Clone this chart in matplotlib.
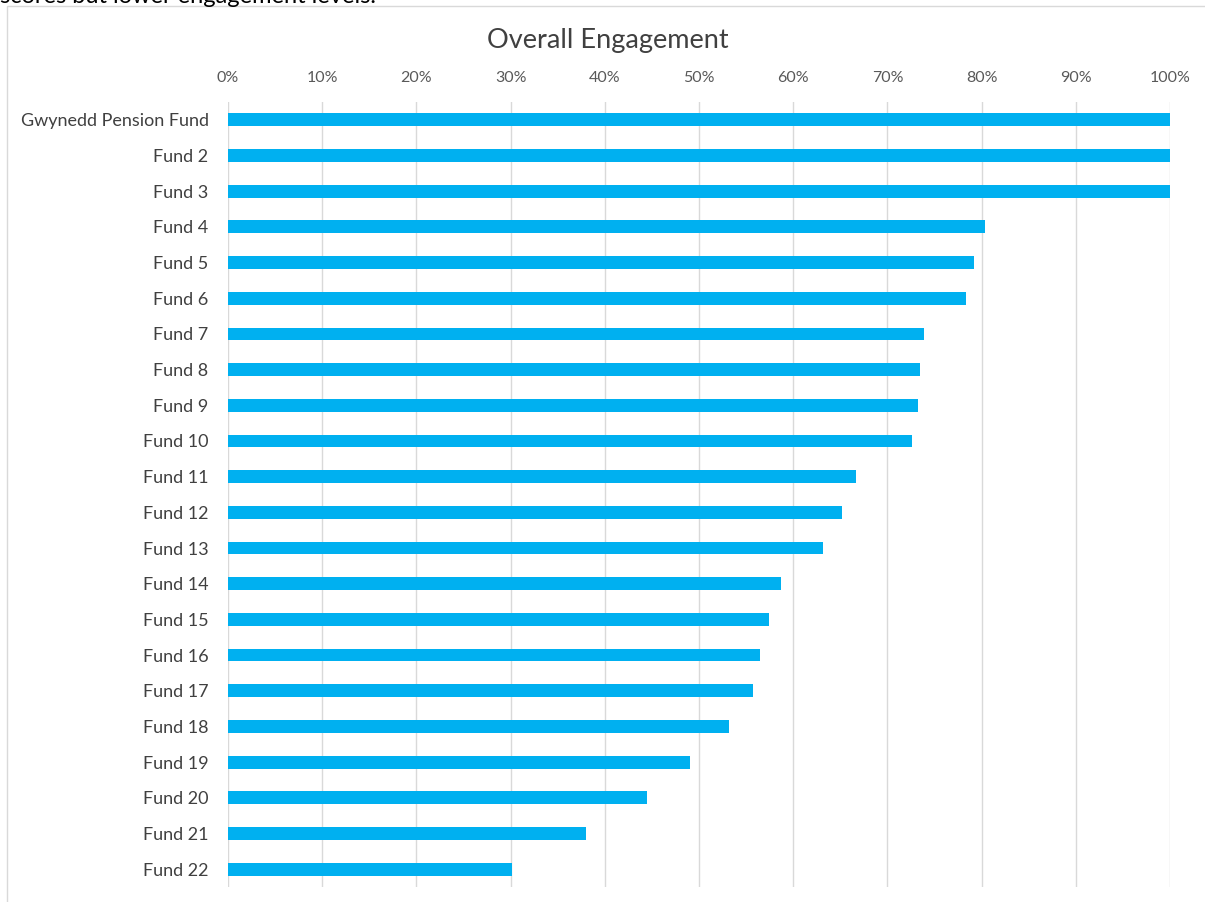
import matplotlib.pyplot as plt
from matplotlib.patches import Rectangle

# data
funds = ["Gwynedd Pension Fund"] + ["Fund %d" % i for i in range(2, 23)]
engagement = [100, 100, 100, 80.4, 79.2, 78.3, 73.9, 73.5, 73.2, 72.6, 66.7,
              65.2, 63.2, 58.7, 57.4, 56.5, 55.7, 53.2, 49.0, 44.5, 38.0, 30.1]
ticks = list(range(0, 101, 10))

plt.rcParams['font.family'] = ['Lato', 'DejaVu Sans']

W, H = 1205, 902
fig = plt.figure(figsize=(W / 100, H / 100), dpi=100)
ax = fig.add_axes([228 / W, 1 - 887 / H, (1170 - 228) / W, (887 - 102) / H])

ypos = list(range(len(funds)))
ax.barh(ypos, engagement, height=0.36, color='#00B0F0', zorder=3)
ax.set_ylim(len(funds) - 0.5, -0.5)
ax.set_xlim(0, 100)

ax.xaxis.tick_top()
ax.set_xticks(ticks)
ax.set_xticklabels(["%d%%" % t for t in ticks], fontsize=11.5, color='#595959')
ax.set_yticks(ypos)
ax.set_yticklabels(funds, fontsize=13, color='#404040')
ax.tick_params(length=0)
ax.tick_params(axis='x', pad=12)
ax.tick_params(axis='y', pad=14)
ax.grid(axis='x', color='#D9D9D9', linewidth=1, zorder=0)
for s in ax.spines.values():
    s.set_visible(False)

fig.text(608 / W, 1 - 48 / H, "Overall Engagement", fontsize=19.5, color='#404040',
         ha='center', va='baseline')

# chart frame and the clipped line of text above it
fig.patches.append(Rectangle((7 / W, -0.1), 1.2, 1 - 6 / H + 0.1, transform=fig.transFigure,
                             fill=False, edgecolor='#D9D9D9', linewidth=1))
fig.text(0, 1 - 3 / H, "scores but lower engagement levels.", fontsize=17,
         color='black', ha='left', va='baseline')

fig.savefig('out.png', dpi=100)
